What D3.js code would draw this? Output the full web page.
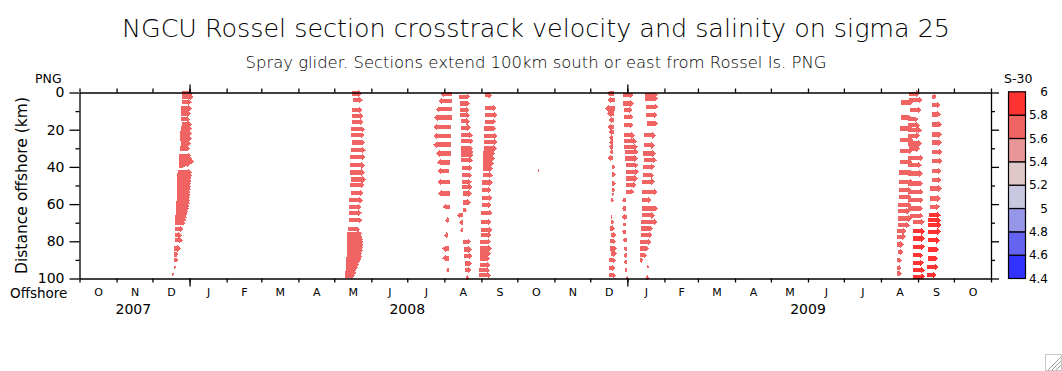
<!DOCTYPE html>
<html><head><meta charset="utf-8">
<script src="https://cdn.jsdelivr.net/npm/d3@7"></script>
<style>
body{margin:0;background:#fff}
svg{display:block}
text{font-family:"DejaVu Sans",sans-serif;fill:#000}
</style>
</head><body>
<svg id="c" width="1062" height="371"></svg>
<script>
// ---------------- data ----------------
const monthLabels = ["O","N","D","J","F","M","A","M","J","J","A","S","O","N","D","J","F","M","A","M","J","J","A","S","O"];
const yearLabels = ["2007","2008","2009"];
const yearLabelDates = ["2007-11-15","2008-07-01","2009-06-01"];
const distMajorTicks = [0,20,40,60,80,100];
const distMinorTicks = [10,30,50,70,90];
const salinityBreaks = [4.4,4.6,4.8,5.0,5.2,5.4,5.6,5.8,6.0];
const salinityLabels = ["4.4","4.6","4.8","5","5.2","5.4","5.6","5.8","6"];
const binColors = ["#3232ff","#6464f0","#9696e8","#c8c8e0","#e0c8c8","#e89696","#f06464","#ff3232"];

// rows: [distance offshore km, days since 2007-10-01 (arrow tail), crosstrack velocity cm/s, S-30]
const dec2007 = [[0.4,85.6,44,5.7],[2.3,86.1,44,5.7],[5.2,85.6,40,5.7],[8.6,85.0,43,5.7],[11.3,85.0,39,5.7],[14.4,85.0,36,5.7],[17.2,85.6,40,5.7],[19.4,85.0,43,5.7],[22,84.2,47,5.7],[24.7,84.2,47,5.7],[27.4,84.7,40,5.7],[30.1,84.2,40,5.7],[34,83.3,48,5.7],[35.5,83.3,52,5.7],[37,83.3,60,5.7],[38.5,83.3,44,5.7],[39.5,83.3,24,5.7],[43,82.2,57,5.7],[44.5,81.9,58,5.7],[46,81.9,55,5.7],[47.5,81.9,55,5.7],[49,81.7,55,5.7],[50.5,81.7,55,5.7],[52,81.4,56,5.7],[53.5,81.4,56,5.7],[55,81.4,54,5.7],[56.5,81.2,54,5.7],[58,81.1,55,5.7],[59.5,80.8,55,5.7],[61,80.8,52,5.7],[62.5,80.8,51,5.7],[64,80.6,49,5.7],[65.5,80.4,47,5.7],[67,80.2,46,5.7],[68.5,80.0,44,5.7],[70,80.0,41,5.7],[73.5,80.0,33,5.7],[76.7,80.0,27,5.7],[79.4,80.0,31,5.7],[83.9,79.1,27,5.7],[87,79.1,17,5.7],[90,79.1,17,5.7],[94,79.1,8,5.7],[97.8,77.2,9,5.7]];
const may2008 = [[0.5,227.7,40,5.7],[4.1,228.6,40,5.7],[9.5,228.2,40,5.7],[12.6,228.2,44,5.7],[15.8,227.7,46,5.7],[19.7,227.1,56,5.7],[23,227.1,53,5.7],[26.9,227.7,53,5.7],[31,227.1,59,5.7],[34.6,226.2,63,5.7],[39.1,226.2,60,5.7],[43,226.2,60,5.7],[46.8,227.1,59,5.7],[49.8,226.2,57,5.7],[54,227.1,49,5.7],[57.9,225.7,54,5.7],[61.5,225.4,51,5.7],[64.7,225.4,51,5.7],[68.7,225.4,53,5.7],[73.5,224.8,47,5.7],[76,224.0,58,5.7],[77.5,224.0,60,5.7],[79,224.0,63,5.7],[80.5,223.7,65,5.7],[82,223.7,65,5.7],[83.5,223.7,64,5.7],[85,223.5,64,5.7],[86.5,223.5,62,5.7],[88,223.5,61,5.7],[89.5,223.2,59,5.7],[91,223.2,55,5.7],[92.5,222.9,52,5.7],[94,222.9,47,5.7],[95.5,222.6,44,5.7],[97,222.1,44,5.7],[98.5,222.1,39,5.7]];
const aug2008a = [[0.9,311.2,-44,5.7],[4.7,311.2,-54,5.7],[9,311.2,-64,5.7],[13.5,311.2,-70,5.7],[18.5,310.7,-71,5.7],[23.3,310.7,-71,5.7],[28,310.7,-71,5.7],[32.8,310.7,-60,5.7],[37.6,309.8,-51,5.7],[42.3,309.2,-48,5.7],[48,309.8,-51,5.7],[54.3,309.8,-47,5.7],[61.5,309.8,-29,5.7],[68.7,309.2,-17,5.7],[76.7,308.4,-17,5.7],[83.9,309.0,-27,5.7],[89.2,309.0,-27,5.7],[95.5,309.2,-13,5.7]];
const aug2008b = [[2.3,317.6,43,5.7],[5.9,318.2,40,5.7],[9.5,318.2,37,5.7],[12.2,318.2,40,5.7],[15.4,318.8,37,5.7],[19,318.8,41,5.7],[23,318.8,48,5.7],[26.2,318.8,50,5.7],[30.1,318.8,50,5.7],[31.9,318.8,50,5.7],[33.7,318.8,50,5.7],[36.4,319.1,47,5.7],[40.5,319.6,44,5.7],[44.5,319.6,42,5.7],[48,319.6,40,5.7],[50.8,320.1,40,5.7],[54.3,320.4,36,5.7],[59.1,320.4,32,5.7],[63.3,320.9,14,5.7],[66,320.4,-24,5.7],[69.9,320.4,-14,5.7],[74,320.9,-13,5.7],[80.3,320.9,31,5.7],[84.4,321.5,31,5.7],[87.8,321.5,35,5.7],[91.9,322.4,29,5.7],[95.5,322.4,27,5.7],[99.7,323.0,14,5.7]];
const sep2008 = [[1.5,339.1,27,5.7],[8.3,339.1,47,5.7],[12.2,339.1,49,5.7],[15.8,339.1,44,5.7],[19.4,338.5,47,5.7],[23.3,338.5,52,5.7],[26.6,338.5,54,5.7],[30.1,338.5,50,5.7],[32.8,337.7,47,5.7],[35.5,337.5,47,5.7],[38.2,337.2,45,5.7],[40.9,337.7,38,5.7],[44.5,337.2,40,5.7],[48.4,336.8,42,5.7],[52.5,336.8,38,5.7],[56.7,336.3,44,5.7],[60.6,336.3,40,5.7],[64.7,335.7,45,5.7],[69.6,335.7,43,5.7],[74,335.7,47,5.7],[76.7,335.7,43,5.7],[80.3,334.9,44,5.7],[83.9,334.9,47,5.7],[86.6,334.9,43,5.7],[89.2,334.9,40,5.7],[92.8,334.9,43,5.7],[95.5,334.3,43,5.7],[98.2,334.3,47,5.7]];
const oct2008 = [[41.8,383.4,6,5.7]];
const dec2008 = [[0.5,446.9,-29,5.7],[4.1,447.7,-31,5.7],[8.6,447.7,-40,5.7],[11.3,446.9,-27,5.7],[14.9,446.9,-23,5.7],[18.5,446.9,-27,5.7],[21.2,446.9,-23,5.7],[24.4,446.3,-17,5.7],[26.9,446.3,-17,5.7],[29.2,446.3,-17,5.7],[31.9,445.8,-11,5.7],[35.2,445.8,-21,5.7],[40,445.4,11,5.7],[44.1,445.0,16,5.7],[48.9,445.0,17,5.7],[52.5,445.0,13,5.7],[54.8,445.0,9,5.7],[57.9,444.1,13,5.7],[66.9,444.1,8,5.7],[69.6,444.4,12,5.7],[73.1,443.6,20,5.7],[76.7,444.1,24,5.7],[79.9,443.6,24,5.7],[83.9,443.6,29,5.7],[86.6,444.1,24,5.7],[90.2,443.0,27,5.7],[94.3,443.0,23,5.7],[98.2,443.0,27,5.7]];
const jan2009a = [[1.5,454.7,40,5.7],[5.9,454.2,45,5.7],[9.5,455.2,35,5.7],[13.1,455.2,37,5.7],[17.6,455.5,36,5.7],[23,455.2,44,5.7],[26.2,455.5,50,5.7],[29.2,455.5,54,5.7],[31.9,456.1,53,5.7],[35.5,456.1,51,5.7],[39.1,456.9,49,5.7],[42.7,456.9,52,5.7],[46.2,456.9,47,5.7],[49.8,456.9,43,5.7],[53.4,456.9,33,5.7],[57.9,456.6,-14,5.7],[62.4,456.9,-17,5.7],[66.9,457.5,-20,5.7],[71,456.6,-12,5.7],[74.9,456.9,-16,5.7],[79.4,457.5,-16,5.7],[83.9,457.5,-13,5.7],[87.5,458.0,-16,5.7],[91.1,457.5,-13,5.7],[95.5,458.0,-12,5.7],[99.7,458.3,-7,5.7]];
const jan2009b = [[1.2,473.0,50,5.7],[3.2,472.8,53,5.7],[7.7,473.6,49,5.7],[12.2,473.6,47,5.7],[16.7,474.2,46,5.7],[23,472.2,47,5.7],[28.3,472.2,43,5.7],[32.8,471.4,50,5.7],[36.4,472.0,51,5.7],[40,470.9,49,5.7],[44.5,470.9,46,5.7],[48,470.5,51,5.7],[53.4,470.5,62,5.7],[57.9,470.0,40,5.7],[62.4,470.0,66,5.7],[66,470.0,53,5.7],[69.6,469.4,67,5.7],[73.1,469.4,49,5.7],[76.7,469.4,47,5.7],[80.3,468.6,47,5.7],[83.9,468.6,37,5.7],[87.5,468.6,29,5.7],[90.2,468.6,13,5.7],[93.8,474.7,7,5.7],[99.7,473.6,13,5.7]];
const aug2009a = [[5.4,686.5,50,5.7],[13.5,686.5,44,5.7],[19.4,685.9,51,5.7],[25.6,685.9,53,5.7],[31.6,685.9,51,5.7],[37.3,685.9,51,5.7],[43,685.3,56,5.7],[48,685.3,56,5.7],[52.5,685.3,50,5.7],[56.1,685.3,50,5.7],[60.6,684.5,54,5.7],[63.8,684.5,47,5.7],[67.7,684.5,54,5.7],[71.3,684.5,47,5.7],[74.4,683.2,40,5.7],[77.6,683.7,35,5.7],[81.7,683.7,27,5.7],[85.7,684.5,20,5.7],[90.2,683.2,20,5.7],[94.3,683.2,20,5.7],[97.3,683.2,20,5.7]];
const aug2009b = [[0.7,693.7,43,5.7],[4.1,693.7,54,5.7],[9.5,694.3,47,5.7],[14.4,692.9,40,5.7],[17.6,692.9,47,5.7],[20.3,692.9,54,5.7],[23.3,692.9,47,5.7],[27.4,692.9,54,5.7],[30.1,693.7,43,5.7],[35.2,692.9,60,5.7],[39.1,692.9,54,5.7],[43.5,692.9,58,5.7],[48.9,692.9,60,5.7],[53.4,692.9,60,5.7],[57.9,692.9,60,5.7],[62.4,692.9,60,5.7],[66.3,694.3,53,5.7],[69.6,697.0,47,5.7],[74.6,697.0,47,5.9],[78.5,697.0,47,5.9],[83,697.0,47,5.9],[87.5,697.0,40,5.9],[91.6,697.0,43,5.9],[95.5,697.0,47,5.9],[99.1,697.0,47,5.9]];
const sep2009 = [[2.3,712.4,20,5.7],[6.8,712.4,36,5.7],[11.8,712.4,36,5.7],[17.2,712.4,40,5.7],[22.6,712.4,40,5.7],[26.9,712.4,40,5.7],[31.9,712.4,44,5.7],[36.9,712.4,44,5.7],[42.3,712.4,40,5.7],[47.2,712.4,40,5.7],[51.6,711.0,47,5.7],[57,711.0,44,5.7],[61.5,711.0,40,5.7],[66,710.4,46,5.9],[68.7,709.6,51,5.9],[71.3,709.6,54,5.9],[74.9,709.6,51,5.9],[79.4,709.6,47,5.9],[84.4,709.6,44,5.9],[89.2,709.6,40,5.9],[93.8,708.7,44,5.9],[98.2,708.2,40,5.9]];
const sections = [dec2007, may2008, aug2008a, aug2008b, sep2008, oct2008, dec2008, jan2009a, jan2009b, aug2009a, aug2009b, sep2009];

// ---------------- chart ----------------
const svg = d3.select("#c");
const t0 = Date.UTC(2007, 9, 1);
const dayToDate = d => new Date(t0 + d * 86400000);
const x = d3.scaleUtc().domain([new Date(Date.UTC(2007,9,1)), new Date(Date.UTC(2009,10,1))]).range([79.5, 991]);
const y = d3.scaleLinear().domain([0, 100]).range([92.5, 278.5]);
const uScale = d3.scaleLinear().domain([0, 100]).range([0, 25]);
const color = d3.scaleThreshold().domain(salinityBreaks.slice(1, -1)).range(binColors);

const monthStarts = d3.utcMonth.range(x.domain()[0], d3.utcMonth.offset(x.domain()[1], 1));
const janStarts = monthStarts.filter(d => d.getUTCMonth() === 0);
const monthMids = monthStarts.slice(0, -1).map((d, i) => new Date((+d + +monthStarts[i + 1]) / 2));

// arrows
function arrowPath(row) {
  const x0 = x(dayToDate(row[1])), yc = y(row[0]);
  const L = (row[2] < 0 ? -1 : 1) * uScale(Math.abs(row[2]));
  const dir = L < 0 ? -1 : 1, a = Math.abs(L);
  const hl = Math.min(3.6, a * 0.6), hw = Math.min(3.4, 1.4 + a * 0.4), sw = Math.min(2.2, 1 + a * 0.3);
  const x1 = x0 + L, xn = x1 - dir * hl;
  return `M${x0},${yc - sw}L${xn},${yc - sw}L${xn},${yc - hw}L${x1},${yc}L${xn},${yc + hw}L${xn},${yc + sw}L${x0},${yc + sw}Z`;
}
const allRows = sections.flat().sort((a, b) => a[3] - b[3]);
svg.append("g").attr("shape-rendering", "crispEdges")
  .selectAll("path").data(allRows).join("path")
  .attr("d", arrowPath).attr("fill", d => color(d[3]));

// frame / axes
const gB = svg.append("g").attr("transform", `translate(0,${y(100)})`);
gB.call(d3.axisBottom(x).tickValues(monthStarts).tickSize(4).tickSizeOuter(0).tickFormat(""));
gB.append("g").call(d3.axisBottom(x).tickValues(janStarts).tickSize(8).tickFormat("")).select(".domain").remove();
const gML = svg.append("g").attr("transform", `translate(0,${y(100)})`)
  .call(d3.axisBottom(x).tickValues(monthMids).tickSize(0).tickPadding(10).tickFormat((d, i) => monthLabels[i]));
gML.select(".domain").remove();
gML.selectAll("text").style("font-size", "11px").style("font-family", "DejaVu Sans");

const gT = svg.append("g").attr("transform", `translate(0,${y(0)})`);
gT.call(d3.axisTop(x).tickValues(monthStarts).tickSize(4).tickSizeOuter(0).tickFormat(""));
gT.append("g").call(d3.axisTop(x).tickValues(janStarts).tickSize(8).tickFormat("")).select(".domain").remove();

const gL = svg.append("g").attr("transform", `translate(${x.range()[0]},0)`);
gL.call(d3.axisLeft(y).tickValues(distMajorTicks).tickSize(10).tickPadding(5).tickSizeOuter(0));
gL.append("g").call(d3.axisLeft(y).tickValues(distMinorTicks).tickSize(4).tickFormat("")).select(".domain").remove();
gL.selectAll("text").style("font-size", "14px").style("font-family", "DejaVu Sans");

const gR = svg.append("g").attr("transform", `translate(${x.range()[1]},0)`);
gR.call(d3.axisRight(y).tickValues(distMajorTicks).tickSize(8).tickSizeOuter(0).tickFormat(""));
gR.append("g").call(d3.axisRight(y).tickValues(distMinorTicks).tickSize(4).tickFormat("")).select(".domain").remove();

svg.selectAll(".domain, .tick line").attr("stroke", "#000").attr("stroke-width", 1.3);

// year labels
svg.append("g").selectAll("text").data(yearLabels).join("text")
  .attr("x", (d, i) => x(new Date(yearLabelDates[i] + "T00:00:00Z")))
  .attr("y", 314).attr("text-anchor", "middle").style("font-size", "14px").text(d => d);

// labels
svg.append("text").attr("x", 10).attr("y", 298).style("font-size", "13.5px").text("Offshore");
svg.append("text").attr("x", 35).attr("y", 83).style("font-size", "12.5px").text("PNG");
svg.append("text").attr("transform", `translate(27,${(y(0) + y(100)) / 2}) rotate(-90)`)
  .attr("text-anchor", "middle").style("font-size", "15.5px").text("Distance offshore (km)");
svg.append("text").attr("x", 536).attr("y", 37).attr("text-anchor", "middle")
  .attr("textLength", 828).attr("lengthAdjust", "spacingAndGlyphs")
  .style("font-size", "24px").style("font-weight", "300")
  .text("NGCU Rossel section crosstrack velocity and salinity on sigma 25");
svg.append("text").attr("x", 536).attr("y", 68).attr("text-anchor", "middle")
  .attr("textLength", 581).attr("lengthAdjust", "spacingAndGlyphs")
  .style("font-size", "16px").style("font-weight", "300")
  .text("Spray glider. Sections extend 100km south or east from Rossel Is. PNG");

// colour bar
const cb = d3.scaleLinear().domain([4.4, 6.0]).range([278.5, 91.8]);
const gC = svg.append("g");
gC.selectAll("rect").data(binColors).join("rect")
  .attr("x", 1008.5).attr("width", 17)
  .attr("y", (d, i) => cb(salinityBreaks[i + 1])).attr("height", (d, i) => cb(salinityBreaks[i]) - cb(salinityBreaks[i + 1]))
  .attr("fill", d => d).attr("stroke", "#000").attr("stroke-width", 1.2);
gC.selectAll("text").data(salinityLabels).join("text")
  .attr("x", 1048).attr("y", (d, i) => cb(salinityBreaks[i])).attr("dy", "0.35em")
  .attr("text-anchor", "end").style("font-size", "12px").text(d => d);
svg.append("text").attr("x", 1004).attr("y", 83).style("font-size", "12.5px").text("S-30");

// window resize grip
const grip = svg.append("g").attr("stroke", "#a0a0a0").attr("stroke-width", 1);
[[1048,370,1061,357],[1052,370,1061,361],[1056,370,1061,365]].forEach(l =>
  grip.append("line").attr("x1", l[0]).attr("y1", l[1]).attr("x2", l[2]).attr("y2", l[3]));
grip.append("rect").attr("x", 1045.5).attr("y", 354.5).attr("width", 16).attr("height", 16).attr("fill", "none").attr("stroke", "#c8c8c8");
</script>
</body></html>
